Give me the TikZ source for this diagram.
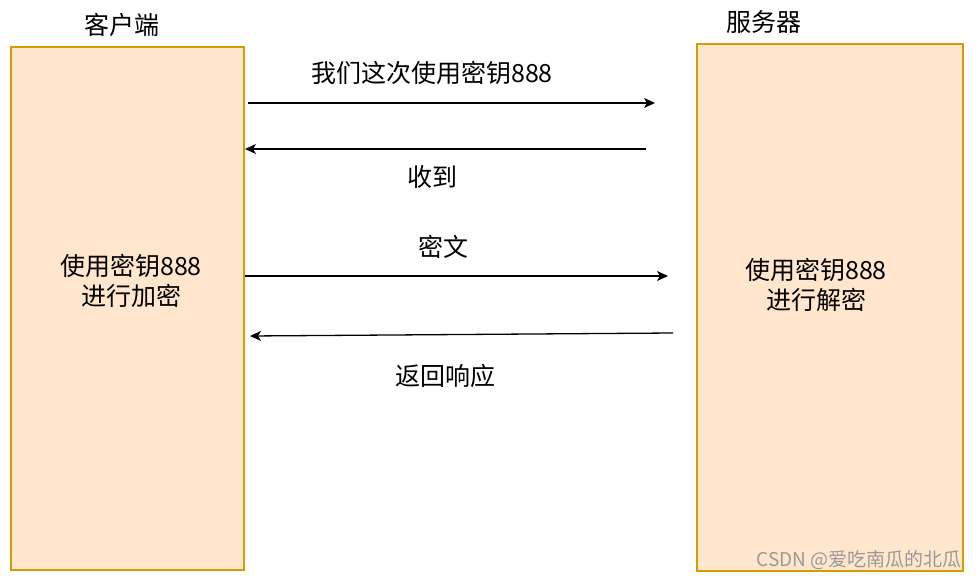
\documentclass[tikz,border=0pt]{standalone}
\usepackage{fontspec}
\setmainfont{Noto Sans CJK SC}
\usetikzlibrary{arrows.meta}
\definecolor{boxfill}{HTML}{FFE6CC}
\definecolor{boxline}{HTML}{D79B00}
\definecolor{wm}{HTML}{9A9A9A}
\tikzset{
  party/.style={draw=boxline, fill=boxfill, line width=1.5pt, inner sep=0pt},
  lbl/.style={font=\fontsize{25}{30}\selectfont, text=black, inner sep=0pt},
  msg/.style={line width=1.3pt, -{Stealth[length=11pt,width=10pt,inset=3pt]}},
}
\begin{document}
\begin{tikzpicture}[x=1pt,y=-1pt]
\useasboundingbox (0,0) rectangle (979,580);
\fill[white] (0,0) rectangle (979,580);
% boxes
\node[party, minimum width=233pt, minimum height=523pt] (client) at (127.5,308.5) {};
\node[party, minimum width=266pt, minimum height=527pt] (server) at (830,307.5) {};
% titles
\node[lbl] (ct) at (122,25) {客户端};
\node[lbl] (st) at (764,22) {服务器};
% box texts
\node[lbl, align=center] (cx) at (131,281) {使用密钥888\\进行加密};
\node[lbl, align=center] (sx) at (816,285) {使用密钥888\\进行解密};
% arrow ends
\coordinate (a1s) at (248,103);
\coordinate (a1e) at (655,103);
\coordinate (a2s) at (646,149);
\coordinate (a2e) at (245,149);
\coordinate (a3s) at (245,276);
\coordinate (a3e) at (668,276);
\coordinate (a4s) at (673,333);
\coordinate (a4e) at (250,336);
\draw[msg] (a1s) -- (a1e);
\draw[msg] (a2s) -- (a2e);
\draw[msg] (a3s) -- (a3e);
\draw[msg] (a4s) -- (a4e);
% labels
\node[lbl] (l1) at (432,73) {我们这次使用密钥888};
\node[lbl] (l2) at (432,177) {收到};
\node[lbl] (l3) at (443,247) {密文};
\node[lbl] (l4) at (445,376) {返回响应};
% watermark
\node[font=\fontsize{19}{22}\selectfont, text=wm, anchor=east, inner sep=0pt] (wmk) at (962,560) {CSDN @爱吃南瓜的北瓜};
\end{tikzpicture}
\end{document}
